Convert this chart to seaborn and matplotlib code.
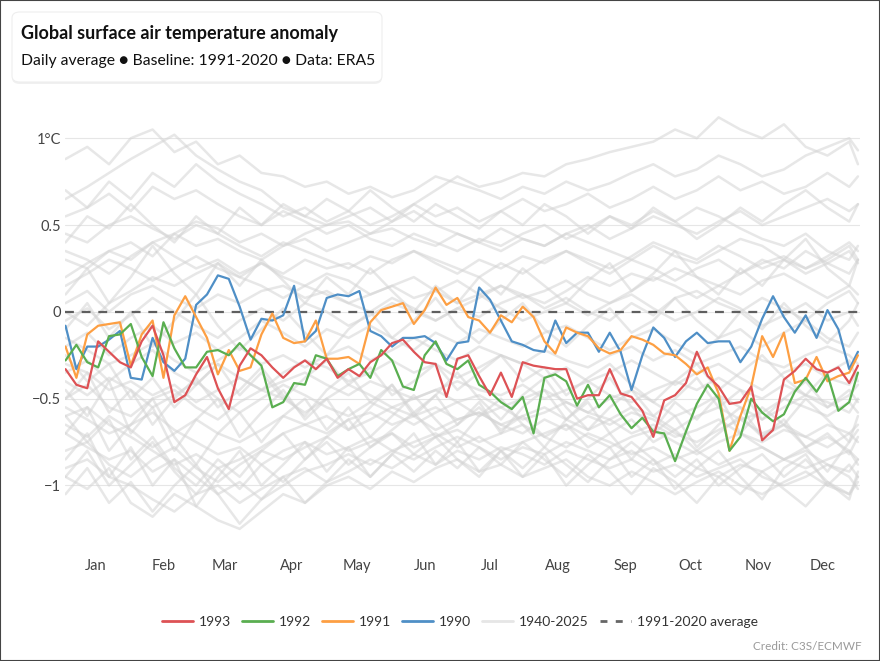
import numpy as np
import pandas as pd
import seaborn as sns
import matplotlib.pyplot as plt
from matplotlib.lines import Line2D
from matplotlib.patches import FancyBboxPatch, Rectangle

sns.set_style("white")
plt.rcParams['font.family'] = ['Lato', 'DejaVu Sans']

# Data (every 5th day of the year)

days = list(range(1, 362, 5)) + [365]

y1990 = [-0.08, -0.33, -0.20, -0.20, -0.16, -0.11, -0.38, -0.39, -0.15, -0.29,
         -0.34, -0.27, 0.04, 0.10, 0.21, 0.19, 0.03, -0.16, -0.04, -0.05,
         -0.02, 0.15, -0.17, -0.11, 0.08, 0.10, 0.09, 0.12, -0.11, -0.14,
         -0.20, -0.15, -0.15, -0.14, -0.18, -0.28, -0.18, -0.17, 0.14, 0.07,
         -0.05, -0.17, -0.19, -0.22, -0.23, -0.05, -0.18, -0.12, -0.12, -0.23,
         -0.12, -0.23, -0.45, -0.25, -0.09, -0.15, -0.26, -0.17, -0.12, -0.18,
         -0.17, -0.17, -0.29, -0.20, -0.04, 0.09, -0.03, -0.12, -0.02, -0.15,
         0.01, -0.10, -0.33, -0.23]

y1991 = [-0.20, -0.38, -0.13, -0.08, -0.07, -0.06, -0.31, -0.13, -0.05, -0.38,
         -0.02, 0.09, -0.03, -0.15, -0.36, -0.22, -0.34, -0.32, -0.13, -0.01,
         -0.15, -0.18, -0.17, -0.05, -0.27, -0.27, -0.26, -0.30, -0.06, 0.01,
         0.03, 0.05, -0.07, 0.01, 0.14, 0.04, 0.08, -0.03, -0.05, -0.12,
         -0.02, -0.06, 0.03, -0.03, -0.17, -0.24, -0.09, -0.12, -0.14, -0.21,
         -0.24, -0.22, -0.14, -0.16, -0.19, -0.24, -0.25, -0.30, -0.36, -0.32,
         -0.47, -0.80, -0.60, -0.43, -0.14, -0.26, -0.12, -0.41, -0.39, -0.26,
         -0.40, -0.37, -0.35, -0.25]

y1992 = [-0.28, -0.19, -0.29, -0.32, -0.14, -0.13, -0.07, -0.26, -0.37, -0.06,
         -0.21, -0.32, -0.32, -0.23, -0.22, -0.25, -0.18, -0.25, -0.31, -0.55,
         -0.52, -0.41, -0.42, -0.25, -0.27, -0.37, -0.33, -0.30, -0.38, -0.22,
         -0.28, -0.43, -0.45, -0.25, -0.17, -0.30, -0.33, -0.28, -0.42, -0.46,
         -0.52, -0.56, -0.49, -0.70, -0.38, -0.36, -0.40, -0.54, -0.42, -0.55,
         -0.48, -0.59, -0.67, -0.61, -0.69, -0.70, -0.86, -0.69, -0.53, -0.42,
         -0.50, -0.80, -0.72, -0.50, -0.58, -0.63, -0.59, -0.46, -0.38, -0.46,
         -0.36, -0.57, -0.52, -0.35]

y1993 = [-0.33, -0.42, -0.44, -0.17, -0.23, -0.29, -0.32, -0.17, -0.08, -0.25,
         -0.52, -0.48, -0.36, -0.26, -0.44, -0.56, -0.31, -0.21, -0.25, -0.32,
         -0.38, -0.32, -0.28, -0.33, -0.27, -0.38, -0.33, -0.37, -0.29, -0.25,
         -0.18, -0.16, -0.23, -0.29, -0.30, -0.49, -0.27, -0.25, -0.37, -0.48,
         -0.35, -0.49, -0.29, -0.31, -0.32, -0.33, -0.33, -0.50, -0.48, -0.48,
         -0.33, -0.47, -0.49, -0.57, -0.72, -0.51, -0.48, -0.41, -0.23, -0.37,
         -0.43, -0.53, -0.52, -0.43, -0.74, -0.68, -0.39, -0.34, -0.27, -0.33,
         -0.35, -0.32, -0.41, -0.31]

# background years 1940-2025 (rough estimates, every 10th day)
gray_days = list(range(1, 362, 10)) + [365]

gray_lines = [
    [0.88, 0.95, 0.85, 1.0, 1.05, 0.92, 0.98, 0.85, 0.9, 0.8,
     0.78, 0.72, 0.75, 0.68, 0.72, 0.66, 0.7, 0.78, 0.74, 0.7,
     0.65, 0.72, 0.68, 0.75, 0.7, 0.74, 0.8, 0.85, 0.78, 0.82,
     0.9, 0.85, 0.78, 0.82, 0.9, 0.95, 1.0, 0.93],
    [0.35, 0.3, 0.22, 0.32, 0.4, 0.45, 0.38, 0.42, 0.35, 0.3,
     0.38, 0.45, 0.5, 0.55, 0.6, 0.52, 0.62, 0.7, 0.78, 0.72,
     0.75, 0.8, 0.78, 0.85, 0.88, 0.92, 0.95, 0.98, 1.05, 1.0,
     1.12, 1.05, 1.0, 1.08, 0.95, 0.9, 0.98, 0.85],
    [0.65, 0.72, 0.8, 0.88, 0.95, 1.02, 0.9, 0.82, 0.75, 0.7,
     0.6, 0.55, 0.5, 0.52, 0.45, 0.48, 0.42, 0.38, 0.45, 0.4,
     0.35, 0.42, 0.38, 0.45, 0.4, 0.35, 0.3, 0.38, 0.32, 0.28,
     0.35, 0.42, 0.38, 0.3, 0.25, 0.32, 0.4, 0.35],
    [0.55, 0.6, 0.68, 0.58, 0.72, 0.65, 0.7, 0.62, 0.55, 0.5,
     0.58, 0.52, 0.45, 0.5, 0.42, 0.38, 0.45, 0.4, 0.35, 0.42,
     0.38, 0.45, 0.5, 0.42, 0.48, 0.55, 0.5, 0.58, 0.52, 0.6,
     0.55, 0.48, 0.42, 0.38, 0.45, 0.35, 0.3, 0.38],
    [0.3, 0.25, 0.35, 0.4, 0.32, 0.45, 0.52, 0.48, 0.4, 0.45,
     0.38, 0.42, 0.35, 0.4, 0.45, 0.52, 0.58, 0.5, 0.45, 0.4,
     0.48, 0.42, 0.38, 0.45, 0.5, 0.42, 0.48, 0.55, 0.5, 0.45,
     0.52, 0.58, 0.5, 0.55, 0.6, 0.65, 0.58, 0.62],
    [0.45, 0.4, 0.5, 0.55, 0.48, 0.42, 0.5, 0.45, 0.38, 0.32,
     0.4, 0.35, 0.3, 0.25, 0.32, 0.28, 0.35, 0.3, 0.25, 0.2,
     0.28, 0.22, 0.3, 0.35, 0.28, 0.22, 0.3, 0.25, 0.18, 0.25,
     0.3, 0.22, 0.28, 0.32, 0.25, 0.3, 0.38, 0.3],
    [0.2, 0.28, 0.35, 0.3, 0.4, 0.32, 0.25, 0.3, 0.22, 0.28,
     0.2, 0.15, 0.22, 0.18, 0.1, 0.15, 0.08, 0.12, 0.05, 0.1,
     0.02, -0.05, 0.0, 0.05, -0.02, 0.05, 0.1, 0.02, -0.05, 0.0,
     0.08, 0.02, -0.08, -0.02, 0.05, -0.05, 0.0, -0.08],
    [0.05, 0.12, 0.0, 0.1, 0.15, 0.08, 0.02, 0.1, 0.05, 0.12,
     0.15, 0.08, 0.12, 0.05, 0.1, 0.15, 0.2, 0.12, 0.18, 0.1,
     0.15, 0.08, 0.12, 0.18, 0.1, 0.05, 0.12, 0.2, 0.15, 0.08,
     0.15, 0.1, 0.18, 0.22, 0.15, 0.08, 0.15, 0.1],
    [-0.05, 0.02, -0.1, -0.02, 0.08, 0.0, -0.08, -0.15, -0.05, 0.02,
     -0.05, 0.05, 0.0, -0.08, -0.02, 0.05, 0.0, -0.05, 0.02, -0.03,
     0.05, 0.1, 0.02, 0.08, 0.0, -0.05, 0.05, -0.02, 0.08, 0.12,
     0.05, 0.0, 0.08, 0.02, -0.05, 0.05, 0.12, 0.05],
    [-0.2, -0.12, -0.25, -0.15, -0.08, -0.18, -0.12, -0.22, -0.15, -0.05,
     -0.12, -0.2, -0.1, -0.15, -0.08, -0.15, -0.22, -0.12, -0.18, -0.1,
     -0.15, -0.2, -0.12, -0.08, -0.15, -0.22, -0.15, -0.1, -0.18, -0.25,
     -0.15, -0.1, -0.2, -0.12, -0.05, -0.15, -0.2, -0.12],
    [-0.35, -0.28, -0.4, -0.3, -0.22, -0.35, -0.42, -0.3, -0.38, -0.45,
     -0.35, -0.28, -0.32, -0.4, -0.35, -0.28, -0.35, -0.3, -0.38, -0.32,
     -0.25, -0.3, -0.38, -0.32, -0.4, -0.35, -0.28, -0.35, -0.42, -0.35,
     -0.3, -0.38, -0.45, -0.35, -0.3, -0.38, -0.42, -0.35],
    [-0.5, -0.42, -0.55, -0.6, -0.5, -0.45, -0.55, -0.62, -0.52, -0.45,
     -0.5, -0.58, -0.5, -0.42, -0.48, -0.55, -0.5, -0.45, -0.52, -0.48,
     -0.55, -0.5, -0.45, -0.52, -0.58, -0.5, -0.45, -0.52, -0.6, -0.55,
     -0.48, -0.55, -0.62, -0.55, -0.48, -0.52, -0.58, -0.5],
    [-0.65, -0.72, -0.6, -0.68, -0.78, -0.7, -0.62, -0.7, -0.75, -0.68,
     -0.6, -0.65, -0.7, -0.62, -0.58, -0.65, -0.6, -0.55, -0.62, -0.58,
     -0.65, -0.6, -0.55, -0.62, -0.68, -0.62, -0.7, -0.65, -0.72, -0.68,
     -0.62, -0.7, -0.75, -0.68, -0.72, -0.65, -0.7, -0.75],
    [-0.8, -0.75, -0.88, -0.95, -0.85, -0.78, -0.9, -0.98, -0.88, -0.8,
     -0.85, -0.78, -0.72, -0.8, -0.75, -0.7, -0.78, -0.72, -0.68, -0.75,
     -0.7, -0.65, -0.72, -0.78, -0.7, -0.75, -0.82, -0.78, -0.85, -0.8,
     -0.88, -0.82, -0.78, -0.85, -0.9, -0.85, -0.8, -0.88],
    [-0.95, -1.02, -0.9, -1.1, -1.18, -1.05, -1.12, -1.2, -1.25, -1.15,
     -1.05, -1.1, -1.0, -0.95, -1.02, -0.92, -0.98, -0.9, -0.85, -0.92,
     -0.88, -0.95, -0.9, -0.85, -0.95, -1.0, -0.92, -0.98, -1.05, -0.98,
     -0.92, -1.0, -1.05, -0.98, -0.92, -1.0, -1.05, -0.98],
    [-0.55, -0.62, -0.7, -0.65, -0.58, -0.68, -0.75, -0.82, -0.78, -0.88,
     -0.8, -0.75, -0.82, -0.78, -0.72, -0.8, -0.75, -0.7, -0.78, -0.72,
     -0.8, -0.75, -0.7, -0.65, -0.72, -0.78, -0.72, -0.68, -0.75, -0.82,
     -0.75, -0.7, -0.78, -0.85, -0.78, -0.72, -0.8, -0.85],
    [-0.4, -0.48, -0.38, -0.45, -0.55, -0.48, -0.4, -0.5, -0.58, -0.5,
     -0.42, -0.48, -0.55, -0.6, -0.52, -0.58, -0.65, -0.58, -0.52, -0.6,
     -0.55, -0.62, -0.58, -0.52, -0.58, -0.62, -0.55, -0.6, -0.68, -0.6,
     -0.55, -0.62, -0.58, -0.5, -0.55, -0.6, -0.52, -0.58],
    [-0.15, -0.22, -0.3, -0.25, -0.18, -0.28, -0.35, -0.28, -0.2, -0.3,
     -0.25, -0.32, -0.25, -0.2, -0.28, -0.22, -0.15, -0.22, -0.28, -0.2,
     -0.25, -0.3, -0.22, -0.28, -0.32, -0.25, -0.2, -0.28, -0.22, -0.3,
     -0.25, -0.2, -0.28, -0.32, -0.25, -0.2, -0.25, -0.3],
    [-0.7, -0.78, -0.85, -0.8, -0.92, -0.85, -0.95, -1.05, -0.98, -1.08,
     -1.0, -0.92, -0.88, -0.82, -0.88, -0.8, -0.85, -0.78, -0.72, -0.78,
     -0.85, -0.78, -0.82, -0.75, -0.8, -0.85, -0.8, -0.88, -0.82, -0.9,
     -0.95, -0.88, -0.92, -0.85, -0.8, -0.88, -0.92, -0.85],
    [-0.9, -0.85, -0.95, -1.0, -1.08, -1.15, -1.05, -1.0, -1.1, -1.02,
     -0.95, -0.9, -0.98, -0.92, -0.85, -0.9, -0.82, -0.88, -0.8, -0.85,
     -0.78, -0.82, -0.88, -0.8, -0.85, -0.9, -0.85, -0.92, -0.88, -0.95,
     -0.9, -0.85, -0.95, -1.0, -0.95, -0.88, -0.95, -1.02],
    [0.15, 0.22, 0.3, 0.25, 0.18, 0.25, 0.32, 0.25, 0.2, 0.28,
     0.22, 0.3, 0.25, 0.28, 0.22, 0.3, 0.35, 0.28, 0.22, 0.3,
     0.25, 0.32, 0.28, 0.35, 0.3, 0.25, 0.32, 0.4, 0.35, 0.3,
     0.38, 0.32, 0.25, 0.3, 0.22, 0.28, 0.35, 0.28],
    [-0.3, -0.35, -0.45, -0.4, -0.48, -0.42, -0.52, -0.45, -0.38, -0.45,
     -0.4, -0.35, -0.42, -0.48, -0.4, -0.45, -0.5, -0.45, -0.4, -0.45,
     -0.48, -0.42, -0.5, -0.45, -0.4, -0.48, -0.52, -0.45, -0.4, -0.45,
     -0.38, -0.45, -0.5, -0.42, -0.48, -0.55, -0.48, -0.42],
    [0.0, -0.08, 0.05, 0.12, 0.2, 0.15, 0.22, 0.28, 0.2, 0.15,
     0.08, 0.15, 0.1, 0.05, 0.0, 0.08, 0.02, -0.05, 0.02, 0.08,
     0.15, 0.1, 0.05, 0.12, 0.2, 0.15, 0.22, 0.18, 0.25, 0.2,
     0.15, 0.22, 0.3, 0.25, 0.35, 0.28, 0.22, 0.3],
    [-0.6, -0.55, -0.65, -0.72, -0.8, -0.88, -0.82, -0.9, -0.85, -0.78,
     -0.7, -0.65, -0.6, -0.68, -0.62, -0.55, -0.6, -0.68, -0.62, -0.58,
     -0.65, -0.7, -0.62, -0.68, -0.6, -0.65, -0.58, -0.62, -0.7, -0.75,
     -0.68, -0.62, -0.7, -0.65, -0.72, -0.78, -0.7, -0.65],
    [-0.45, -0.6, -0.4, -0.7, -0.55, -0.8, -0.62, -0.5, -0.72, -0.58,
     -0.45, -0.62, -0.5, -0.68, -0.55, -0.42, -0.6, -0.48, -0.65, -0.52,
     -0.7, -0.55, -0.45, -0.62, -0.5, -0.38, -0.55, -0.68, -0.52, -0.62,
     -0.48, -0.7, -0.55, -0.65, -0.5, -0.62, -0.75, -0.6],
    [-0.85, -0.7, -0.95, -0.78, -1.0, -0.85, -1.12, -0.95, -0.8, -1.0,
     -0.88, -0.75, -0.92, -0.78, -0.95, -0.82, -0.7, -0.88, -0.75, -0.92,
     -0.8, -0.95, -0.82, -1.0, -0.88, -0.78, -0.95, -0.85, -1.02, -0.9,
     -0.8, -0.95, -1.08, -0.9, -0.82, -1.0, -0.88, -0.95],
    [-0.25, -0.4, -0.3, -0.5, -0.38, -0.55, -0.42, -0.3, -0.48, -0.35,
     -0.5, -0.38, -0.28, -0.42, -0.32, -0.48, -0.4, -0.3, -0.45, -0.35,
     -0.25, -0.4, -0.32, -0.48, -0.38, -0.3, -0.42, -0.52, -0.4, -0.3,
     -0.45, -0.35, -0.25, -0.38, -0.48, -0.35, -0.28, -0.4],
    [0.1, 0.25, 0.05, 0.2, 0.38, 0.22, 0.1, 0.28, 0.15, 0.3,
     0.18, 0.05, 0.2, 0.1, 0.25, 0.12, 0.0, 0.15, 0.05, 0.2,
     0.1, 0.25, 0.15, 0.05, 0.18, 0.28, 0.12, 0.22, 0.35, 0.2,
     0.1, 0.25, 0.15, 0.3, 0.42, 0.25, 0.15, 0.3],
    [-0.7, -0.55, -0.8, -0.65, -0.5, -0.72, -0.88, -0.7, -0.58, -0.75,
     -0.6, -0.5, -0.68, -0.55, -0.72, -0.6, -0.48, -0.62, -0.75, -0.6,
     -0.5, -0.65, -0.78, -0.62, -0.52, -0.7, -0.85, -0.7, -0.6, -0.78,
     -0.65, -0.55, -0.72, -0.62, -0.78, -0.92, -0.75, -0.68],
    [-1.05, -0.9, -1.1, -0.98, -1.15, -1.0, -0.88, -1.05, -1.22, -1.08,
     -0.95, -1.1, -0.98, -0.85, -0.95, -0.82, -0.92, -0.8, -0.9, -0.78,
     -0.88, -0.75, -0.85, -0.95, -0.82, -0.92, -1.05, -0.9, -0.98, -1.1,
     -0.95, -1.05, -0.92, -1.02, -1.12, -0.98, -1.05, -0.95],
    [-0.1, 0.05, -0.15, 0.0, -0.2, -0.05, 0.1, -0.08, -0.22, -0.1,
     0.02, -0.12, -0.25, -0.1, 0.0, -0.15, -0.05, 0.08, -0.08, -0.18,
     -0.05, 0.05, -0.1, -0.2, -0.08, 0.02, -0.12, -0.05, 0.08, -0.05,
     -0.15, 0.0, -0.1, 0.05, -0.08, -0.18, -0.05, 0.05],
    [0.4, 0.55, 0.48, 0.62, 0.5, 0.4, 0.55, 0.45, 0.6, 0.5,
     0.62, 0.55, 0.65, 0.58, 0.7, 0.6, 0.52, 0.62, 0.55, 0.48,
     0.58, 0.5, 0.62, 0.55, 0.45, 0.55, 0.48, 0.6, 0.52, 0.42,
     0.5, 0.6, 0.52, 0.62, 0.7, 0.6, 0.52, 0.62],
    [-0.5, -0.35, -0.58, -0.45, -0.65, -0.5, -0.38, -0.55, -0.45, -0.32,
     -0.48, -0.6, -0.45, -0.35, -0.52, -0.42, -0.58, -0.48, -0.35, -0.5,
     -0.62, -0.48, -0.38, -0.55, -0.68, -0.55, -0.45, -0.6, -0.5, -0.38,
     -0.55, -0.45, -0.62, -0.5, -0.4, -0.55, -0.45, -0.52],
    [-0.95, -0.8, -1.0, -0.88, -0.75, -0.92, -1.05, -0.9, -1.02, -0.88,
     -0.98, -0.85, -0.75, -0.88, -0.78, -0.7, -0.82, -0.72, -0.85, -0.95,
     -0.8, -0.9, -0.78, -0.88, -0.98, -0.85, -0.75, -0.85, -0.95, -0.85,
     -1.0, -0.9, -0.82, -0.95, -0.85, -0.98, -1.08, -0.92],
    [0.7, 0.6, 0.75, 0.65, 0.8, 0.72, 0.85, 0.75, 0.68, 0.62,
     0.55, 0.6, 0.52, 0.58, 0.5, 0.55, 0.62, 0.55, 0.6, 0.52,
     0.58, 0.65, 0.58, 0.62, 0.68, 0.6, 0.65, 0.72, 0.65, 0.7,
     0.78, 0.7, 0.75, 0.68, 0.72, 0.8, 0.72, 0.78],
    [-0.6, -0.75, -0.62, -0.85, -0.72, -0.9, -1.0, -0.85, -0.95, -0.8,
     -0.7, -0.85, -0.72, -0.62, -0.78, -0.68, -0.58, -0.72, -0.65, -0.55,
     -0.68, -0.6, -0.72, -0.65, -0.78, -0.7, -0.62, -0.75, -0.68, -0.8,
     -0.7, -0.6, -0.72, -0.65, -0.78, -0.7, -0.82, -0.72],
]

months = ['Jan', 'Feb', 'Mar', 'Apr', 'May', 'Jun',
          'Jul', 'Aug', 'Sep', 'Oct', 'Nov', 'Dec']
month_mid = [15, 46, 74, 105, 135, 166, 196, 227, 258, 288, 319, 349]

years = ['1990', '1991', '1992', '1993']
colors = {'1990': '#4f8fc6', '1991': '#fd9f43', '1992': '#5aae50', '1993': '#dd5255'}

hl = pd.DataFrame({
    'day': days * 4,
    'anomaly': y1990 + y1991 + y1992 + y1993,
    'year': [y for y in years for _ in days],
})

bg = pd.DataFrame({
    'day': gray_days * len(gray_lines),
    'anomaly': [v for line in gray_lines for v in line],
    'line': [i for i in range(len(gray_lines)) for _ in gray_days],
})

# Figure

fig = plt.figure(figsize=(8.8, 6.61), dpi=100)
ax = fig.add_axes([65 / 880, 1 - 548 / 661, 795 / 880, 448 / 661])

sns.lineplot(data=bg, x='day', y='anomaly', units='line', estimator=None,
             color='#d4d4d4', alpha=0.55, lw=1.8, ax=ax, legend=False)
ax.axhline(0, color='#5f5f5f', lw=1.6, ls=(0, (4, 3.5)), zorder=3)
sns.lineplot(data=hl, x='day', y='anomaly', hue='year', hue_order=years,
             palette=colors, lw=1.6, ax=ax, legend=False, zorder=4)

ax.set_xlim(0.77, 365.95)
ax.set_ylim(-1.36, 1.22)
ax.set_yticks([-1, -0.5, 0, 0.5, 1])
ax.set_yticklabels(['\u22121', '\u22120.5', '0', '0.5', '1°C'])
ax.set_xticks(month_mid)
ax.set_xticklabels(months)
ax.yaxis.grid(True, color='#e6e6e6', lw=0.8)
ax.set_axisbelow(True)
ax.set_xlabel('')
ax.set_ylabel('')
ax.tick_params(axis='y', length=0, labelsize=10.5, labelcolor='#444444', pad=3)
ax.tick_params(axis='x', length=0, labelsize=10.5, labelcolor='#444444', pad=8)
sns.despine(ax=ax, left=True, bottom=True)

# Title box

shadow = FancyBboxPatch((12 / 880, 1 - 84 / 661), 370 / 880, 70 / 661,
                        boxstyle='round,pad=0,rounding_size=0.009',
                        transform=fig.transFigure, fc='#000000', alpha=0.06,
                        ec='none', zorder=1)
box = FancyBboxPatch((12 / 880, 1 - 82 / 661), 370 / 880, 70 / 661,
                     boxstyle='round,pad=0,rounding_size=0.009',
                     transform=fig.transFigure, fc='white', ec='#eeeeee',
                     lw=0.8, zorder=2)
fig.add_artist(shadow)
fig.add_artist(box)
fig.text(21 / 880, 1 - 33 / 661, 'Global surface air temperature anomaly',
         fontsize=13, fontweight='bold', color='#111111', va='center', zorder=3)
fig.text(21 / 880, 1 - 61 / 661,
         'Daily average \u25CF Baseline: 1991-2020 \u25CF Data: ERA5',
         fontsize=11.3, color='#111111', va='center', zorder=3)

# Legend

handles = [Line2D([], [], color=colors['1993'], lw=2),
           Line2D([], [], color=colors['1992'], lw=2),
           Line2D([], [], color=colors['1991'], lw=2),
           Line2D([], [], color=colors['1990'], lw=2),
           Line2D([], [], color='#e6e6e6', lw=2),
           Line2D([], [], color='#666666', lw=2, ls=(0, (2.5, 3)))]
labels = ['1993', '1992', '1991', '1990', '1940-2025', '1991-2020 average']
fig.legend(handles, labels, loc='center', bbox_to_anchor=(460 / 880, 1 - 622 / 661),
           ncol=6, frameon=False, fontsize=10, handlelength=2.2,
           handletextpad=0.45, columnspacing=0.8, labelcolor='#333333')

fig.text(862 / 880, 1 - 646 / 661, 'Credit: C3S/ECMWF', ha='right', va='center',
         fontsize=8.5, color='#9a9a9a')

fig.add_artist(Rectangle((0, 0), 1, 1, transform=fig.transFigure, fill=False,
                         ec='#444444', lw=1.5))

fig.savefig('out.png', dpi=100)
